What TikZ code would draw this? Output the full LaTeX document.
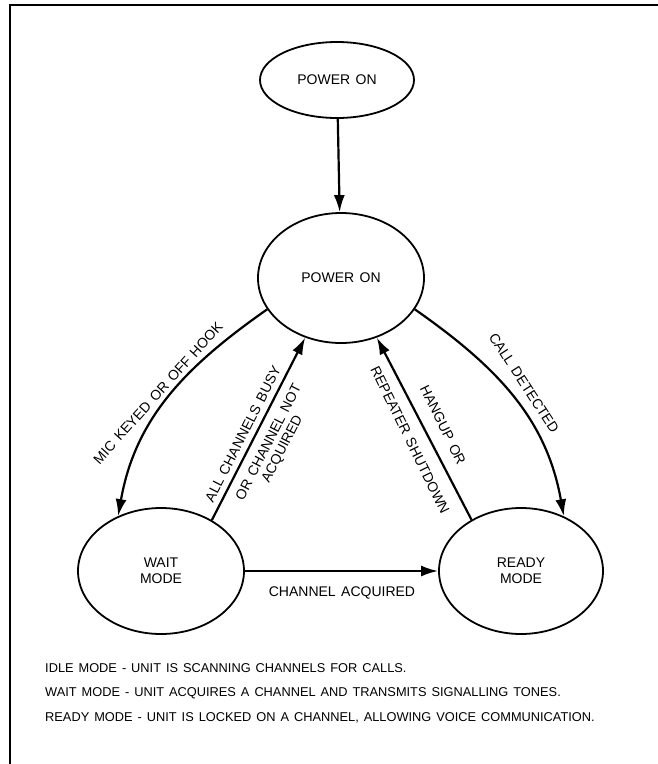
\documentclass[tikz,border=0pt]{standalone}
\usepackage{fontspec}
\setmainfont{Liberation Sans}[WordSpace=1.4]
\usetikzlibrary{arrows.meta,shapes.geometric}
\begin{document}
\begin{tikzpicture}[x=1pt,y=1pt,
  state/.style={draw, line width=1.8pt, ellipse, inner sep=0pt, align=center,
    font=\fontsize{14}{16}\selectfont},
  arr/.style={line width=2.2pt, -{Latex[length=17pt,width=11pt]}},
  lbl/.style={font=\fontsize{14}{15}\selectfont, inner sep=0pt, align=center},
  note/.style={font=\fontsize{12.8}{14}\selectfont, inner sep=0pt, anchor=west}]
\useasboundingbox (0,0) rectangle (658,-764);
\draw[line width=2pt] (10,-764) -- (10,-5) -- (658,-5);
\node[state, minimum width=154pt, minimum height=76pt] (top) at (337,-80) {POWER ON};
\node[state, minimum width=166pt, minimum height=130pt] (mid) at (341,-278) {POWER ON};
\node[state, minimum width=166pt, minimum height=126pt] (wait) at (161,-571) {WAIT\\MODE};
\node[state, minimum width=164pt, minimum height=126pt] (ready) at (521,-571) {READY\\MODE};
\draw[arr] (top) -- (mid);
\draw[arr] (mid.203) to[out=215,in=80] (wait.128);
\draw[arr] (mid.337) to[out=-35,in=100] (ready.52);
\draw[arr] (wait.45) -- (mid.239);
\draw[arr] (ready.134) -- (mid.301);
\draw[arr] (wait.east) -- (ready.west);
\node[lbl, rotate=48] (l1) at (158,-393) {MIC KEYED OR OFF HOOK};
\node[lbl, rotate=-57] (l2) at (524,-383) {CALL DETECTED};
\node[lbl, rotate=63] (l3) at (243,-434) {ALL CHANNELS BUSY};
\node[lbl, rotate=63] (l4) at (276,-446) {OR CHANNEL NOT\\ACQUIRED};
\node[lbl, rotate=-64] (l5) at (443,-425) {HANGUP OR};
\node[lbl, rotate=-64] (l6) at (410,-440) {REPEATER SHUTDOWN};
\node[lbl] (l7) at (342,-593) {CHANNEL ACQUIRED};
\node[note] (n1) at (45,-668) {IDLE MODE - UNIT IS SCANNING CHANNELS FOR CALLS.};
\node[note] (n2) at (45,-693) {WAIT MODE - UNIT ACQUIRES A CHANNEL AND TRANSMITS SIGNALLING TONES.};
\node[note] (n3) at (45,-718) {READY MODE - UNIT IS LOCKED ON A CHANNEL, ALLOWING VOICE COMMUNICATION.};
\end{tikzpicture}
\end{document}
